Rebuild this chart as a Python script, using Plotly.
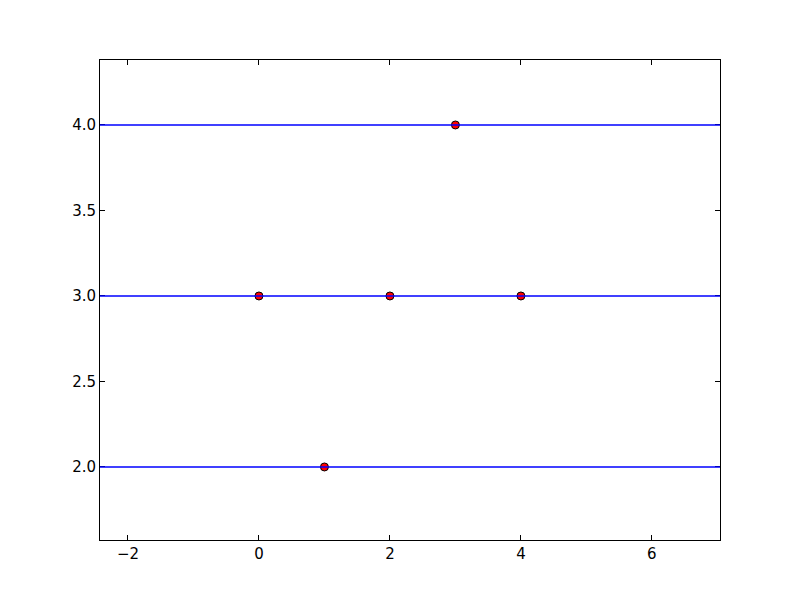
import plotly.graph_objects as go

x_vals = [0, 1, 2, 3, 4]
y_vals = [3, 2, 3, 4, 3]
hlines = [2, 3, 4]
x_range = [-2.427, 7.04]
y_range = [1.573, 4.38]

fig = go.Figure()
fig.add_trace(go.Scatter(
    x=x_vals, y=y_vals, mode="markers",
    marker=dict(color="#ff0000", size=8, line=dict(color="black", width=1)),
    showlegend=False,
))
for h in hlines:
    fig.add_hline(y=h, line=dict(color="#0000ff", width=1.3), layer="above")

axis_common = dict(
    showgrid=False, zeroline=False, showline=True, linecolor="black", linewidth=1,
    mirror="ticks", ticks="inside", ticklen=5, tickcolor="black", tickwidth=1,
    tickfont=dict(family="DejaVu Sans", size=15, color="black"),
)
fig.update_xaxes(range=x_range, dtick=2, tick0=0, **axis_common)
fig.update_yaxes(range=y_range, dtick=0.5, tick0=0, tickformat=".1f", **axis_common)

fig.update_layout(
    width=800, height=600,
    margin=dict(l=92, r=88, t=52, b=68),
    paper_bgcolor="white", plot_bgcolor="white",
)
fig.write_html("out.html")
